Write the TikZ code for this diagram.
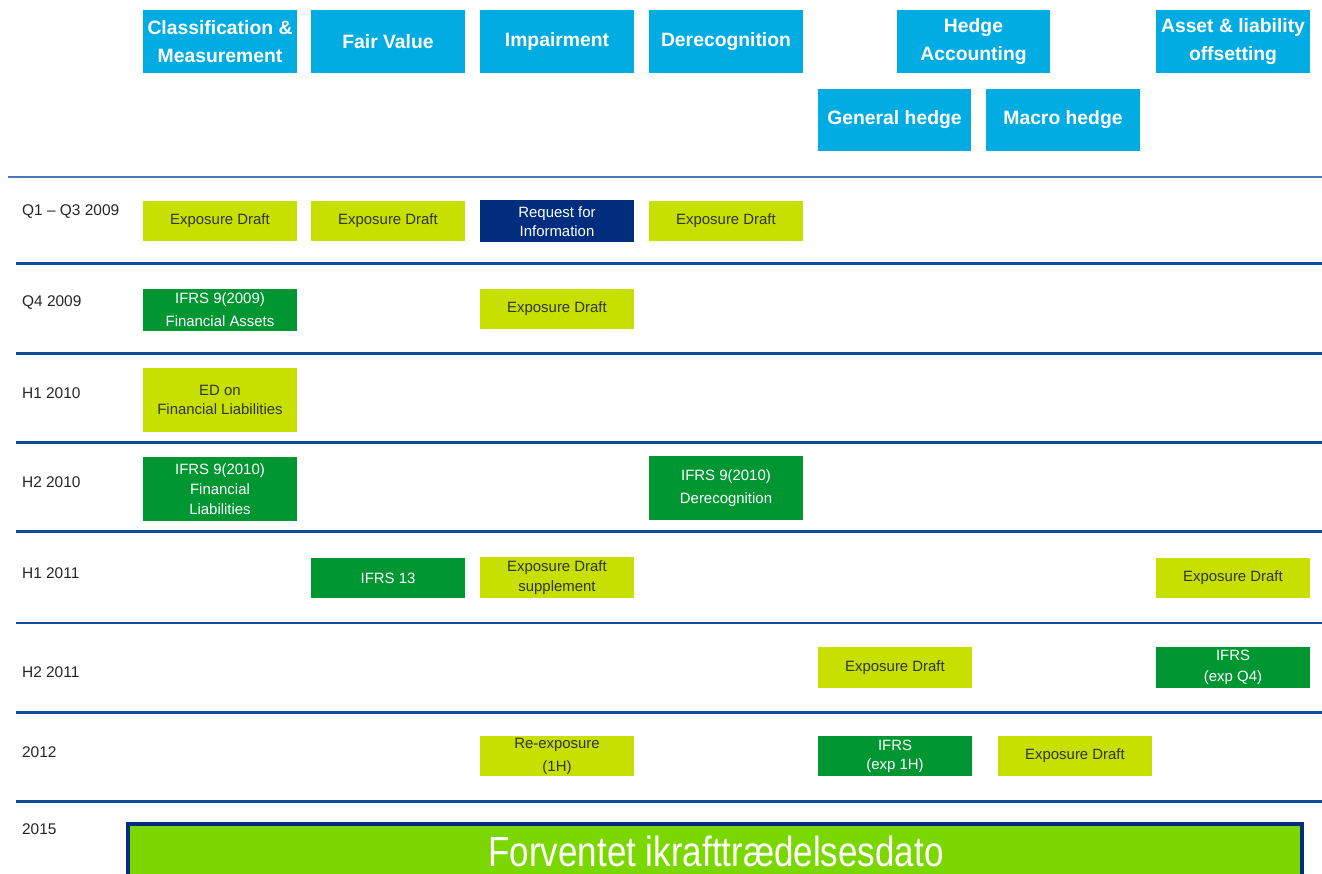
\documentclass[tikz,border=0pt]{standalone}
\usepackage{fontspec}
\setmainfont{Liberation Sans}
\usepackage{graphicx}
\usetikzlibrary{positioning}

\definecolor{topicblue}{RGB}{0,172,226}
\definecolor{draftgreen}{RGB}{200,224,0}
\definecolor{ifrsgreen}{RGB}{0,150,50}
\definecolor{rfinavy}{RGB}{0,45,125}
\definecolor{rulenavy}{RGB}{15,75,155}
\definecolor{datelime}{RGB}{122,216,0}

\begin{document}
\begin{tikzpicture}[x=0.02cm, y=-0.02cm, align=center, inner sep=1pt,
    topic/.style={fill=topicblue, text=white, font=\fontsize{11}{16}\selectfont\bfseries, minimum width=3.08cm, minimum height=1.26cm},
    box/.style={minimum width=3.08cm, minimum height=0.8cm, font=\fontsize{8.5}{11}\selectfont},
    draft/.style={box, fill=draftgreen, text=black!80},
    ifrs/.style={box, fill=ifrsgreen, text=white},
    rfi/.style={box, fill=rfinavy, text=white},
    period/.style={anchor=west, font=\fontsize{8.8}{10}\selectfont, text=black!85},
    sep/.style={rulenavy, line width=0.06cm}]

    \clip (0,0) rectangle (1322,874);
    \fill[white] (0,0) rectangle (1322,874);

    % Topics
    \node[topic] (cm) at (220,41.5) {Classification \&\\Measurement};
    \node[topic] (fv) at (388,41.5) {Fair Value};
    \node[topic] (imp) at (557,41.5) {Impairment};
    \node[topic] (der) at (726,41.5) {Derecognition};
    \node[topic] (hedge) at (973.5,41.5) {Hedge\\Accounting};
    \node[topic] (off) at (1233,41.5) {Asset \& liability\\offsetting};
    \node[topic] (gen) at (894.5,120) {General hedge};
    \node[topic] (mac) at (1063,120) {Macro hedge};

    % Separators
    \draw[sep, rulenavy!75, line width=0.05cm] (8,177) -- (1322,177);
    \foreach \y in {264,354,443,532,623,712,801} {
        \draw[sep] (16,\y) -- (1322,\y);
    }

    % Periods
    \node[period] (q109) at (20,212) {Q1 – Q3 2009};
    \node[period] (q409) at (20,303) {Q4 2009};
    \node[period] (h110) at (20,393) {H1 2010};
    \node[period] (h210) at (20,482) {H2 2010};
    \node[period] (h111) at (20,573) {H1 2011};
    \node[period] (h211) at (20,672) {H2 2011};
    \node[period] (y12) at (20,752) {2012};
    \node[period] (y15) at (20,829) {2015};

    % Q1 - Q3 2009
    \node[draft] (cm1) at (220,221) {Exposure Draft};
    \node[draft] (fv1) at (388,221) {Exposure Draft};
    \node[rfi, minimum height=0.84cm] (imp1) at (557,221.5) {Request for\\Information};
    \node[draft] (der1) at (726,221) {Exposure Draft};

    % Q4 2009
    \node[ifrs, minimum height=0.84cm, font=\fontsize{8.5}{13}\selectfont] (cm2) at (220,310) {IFRS 9(2009)\\Financial Assets};
    \node[draft] (imp2) at (557,309) {Exposure Draft};

    % H1 2010
    \node[draft, minimum height=1.28cm] (cm3) at (220,400) {ED on\\Financial Liabilities};

    % H2 2010
    \node[ifrs, minimum height=1.28cm, font=\fontsize{8.5}{11.5}\selectfont] (cm4) at (220,489) {IFRS 9(2010)\\Financial\\Liabilities};
    \node[ifrs, minimum height=1.28cm, font=\fontsize{8.5}{13}\selectfont] (der4) at (726,488) {IFRS 9(2010)\\Derecognition};

    % H1 2011
    \node[ifrs] (fv5) at (388,578) {IFRS 13};
    \node[draft, minimum height=0.82cm] (imp5) at (557,577.5) {Exposure Draft\\supplement};
    \node[draft] (off5) at (1233,578) {Exposure Draft};

    % H2 2011
    \node[draft, minimum height=0.82cm] (gen6) at (895,667.5) {Exposure Draft};
    \node[ifrs, minimum height=0.82cm, font=\fontsize{8.5}{12}\selectfont] (off6) at (1233,667.5) {IFRS\\(exp Q4)};

    % 2012
    \node[draft, font=\fontsize{8.5}{13}\selectfont] (imp7) at (557,756) {Re-exposure\\(1H)};
    \node[ifrs, font=\fontsize{8.5}{11}\selectfont] (gen7) at (895,756) {IFRS\\(exp 1H)};
    \node[draft] (mac7) at (1075,756) {Exposure Draft};

    % 2015
    \node[fill=datelime, draw=rfinavy, line width=0.07cm, minimum width=23.48cm, minimum height=1.8cm, anchor=north, text=white] (final) at (715,822) {};
    \node[text=white, font=\fontsize{24}{28}\selectfont] (finaltxt) at (716,851) {\scalebox{0.83}[1]{Forventet ikrafttrædelsesdato}};
\end{tikzpicture}
\end{document}
